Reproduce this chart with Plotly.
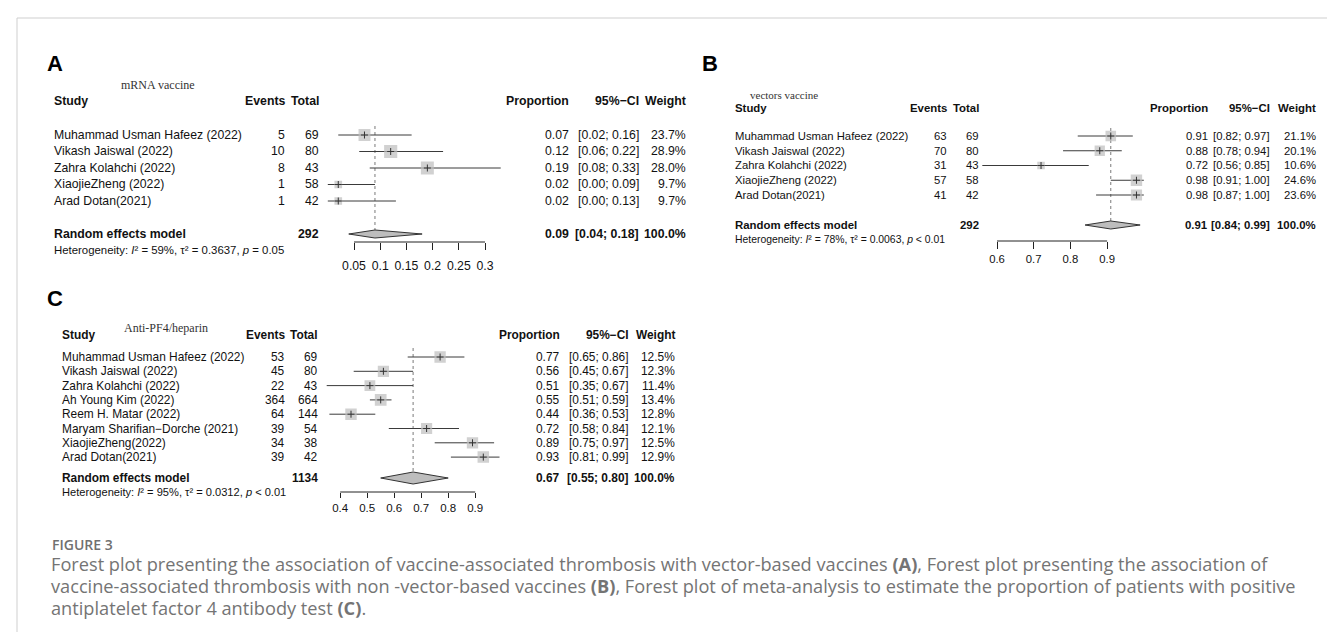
import plotly.graph_objects as go

W, H = 1335, 632

# ---------------- data ----------------
A_title = "mRNA vaccine"
A_studies = ["Muhammad Usman Hafeez (2022)", "Vikash Jaiswal (2022)", "Zahra Kolahchi (2022)",
             "XiaojieZheng (2022)", "Arad Dotan(2021)"]
A_events = [5, 10, 8, 1, 1]
A_total = [69, 80, 43, 58, 42]
A_prop = [0.07, 0.12, 0.19, 0.02, 0.02]
A_lower = [0.02, 0.06, 0.08, 0.00, 0.00]
A_upper = [0.16, 0.22, 0.33, 0.09, 0.13]
A_weight = [23.7, 28.9, 28.0, 9.7, 9.7]
A_pooled = [0.09, 0.04, 0.18]
A_pooled_n = 292
A_het = ["59%", "0.3637", "= 0.05"]
A_ticks = [0.05, 0.1, 0.15, 0.2, 0.25, 0.3]
A_ticklabels = ["0.05", "0.1", "0.15", "0.2", "0.25", "0.3"]

B_title = "vectors vaccine"
B_studies = ["Muhammad Usman Hafeez (2022)", "Vikash Jaiswal (2022)", "Zahra Kolahchi (2022)",
             "XiaojieZheng (2022)", "Arad Dotan(2021)"]
B_events = [63, 70, 31, 57, 41]
B_total = [69, 80, 43, 58, 42]
B_prop = [0.91, 0.88, 0.72, 0.98, 0.98]
B_lower = [0.82, 0.78, 0.56, 0.91, 0.87]
B_upper = [0.97, 0.94, 0.85, 1.00, 1.00]
B_weight = [21.1, 20.1, 10.6, 24.6, 23.6]
B_pooled = [0.91, 0.84, 0.99]
B_pooled_n = 292
B_het = ["78%", "0.0063", "< 0.01"]
B_ticks = [0.6, 0.7, 0.8, 0.9]
B_ticklabels = ["0.6", "0.7", "0.8", "0.9"]

C_title = "Anti-PF4/heparin"
C_studies = ["Muhammad Usman Hafeez (2022)", "Vikash Jaiswal (2022)", "Zahra Kolahchi (2022)",
             "Ah Young Kim (2022)", "Reem H. Matar (2022)", "Maryam Sharifian\u2212Dorche (2021)",
             "XiaojieZheng(2022)", "Arad Dotan(2021)"]
C_events = [53, 45, 22, 364, 64, 39, 34, 39]
C_total = [69, 80, 43, 664, 144, 54, 38, 42]
C_prop = [0.77, 0.56, 0.51, 0.55, 0.44, 0.72, 0.89, 0.93]
C_lower = [0.65, 0.45, 0.35, 0.51, 0.36, 0.58, 0.75, 0.81]
C_upper = [0.86, 0.67, 0.67, 0.59, 0.53, 0.84, 0.97, 0.99]
C_weight = [12.5, 12.3, 11.4, 13.4, 12.8, 12.1, 12.5, 12.9]
C_pooled = [0.67, 0.55, 0.80]
C_pooled_n = 1134
C_het = ["95%", "0.0312", "< 0.01"]
C_ticks = [0.4, 0.5, 0.6, 0.7, 0.8, 0.9]
C_ticklabels = ["0.4", "0.5", "0.6", "0.7", "0.8", "0.9"]

CAPTION_HEAD = "FIGURE 3"
CAPTION_LINES = [
    "Forest plot presenting the association of vaccine-associated thrombosis with vector-based vaccines <b>(A)</b>, Forest plot presenting the association of",
    "vaccine-associated thrombosis with non -vector-based vaccines <b>(B)</b>, Forest plot of meta-analysis to estimate the proportion of patients with positive",
    "antiplatelet factor 4 antibody test <b>(C)</b>.",
]

# ---------------- layout / style (pixels) ----------------
SANS = "Liberation Sans, Arial, Helvetica, sans-serif"
SERIF = "Liberation Serif, Times New Roman, serif"
CAPF = "Open Sans, Noto Sans, sans-serif"

STYLE = {
    "A": dict(letter=(37, 55), title_xy=(150, 77), title_fs=12, header_y=93, row0=127, dy=16.5,
              sum_y=226, het_y=242, axis_y=234, ticklen=7, standoff=5, a=319.8, b=524.0,
              xr=[-0.01, 0.35], name_x=44, ev_r=279, tot_r=313, prop_r=563, ci_r=633, w_r=680,
              fs=12.25, hfs=12.3, het_fs=11.4, tick_fs=12.25, sq=2.45, dh=4, dot_top=118,
              top=62, bottom=272),
    "B": dict(letter=(692, 55), title_xy=(776, 87), title_fs=11, header_y=100, row0=128, dy=14.75,
              sum_y=217, het_y=232, axis_y=233, ticklen=7, standoff=0, a=768.8, b=367.0,
              xr=[0.5, 1.02], name_x=725, ev_r=941, tot_r=973, prop_r=1202, ci_r=1264, w_r=1310,
              fs=11.3, hfs=11.4, het_fs=10.4, tick_fs=11.3, sq=2.3, dh=4, dot_top=120,
              top=75, bottom=262),
    "C": dict(letter=(37, 290), title_xy=(158, 320), title_fs=12, header_y=327, row0=349, dy=14.3,
              sum_y=470, het_y=484, axis_y=484, ticklen=5, standoff=0, a=224.2, b=270.0,
              xr=[0.3, 1.02], name_x=52, ev_r=279, tot_r=312, prop_r=554, ci_r=623, w_r=669,
              fs=11.9, hfs=11.9, het_fs=11.1, tick_fs=11.5, sq=3.2, dh=6, dot_top=340,
              top=300, bottom=512),
}

PANELS = [
    ("A", A_title, A_studies, A_events, A_total, A_prop, A_lower, A_upper, A_weight,
     A_pooled, A_pooled_n, A_het, A_ticks, A_ticklabels),
    ("B", B_title, B_studies, B_events, B_total, B_prop, B_lower, B_upper, B_weight,
     B_pooled, B_pooled_n, B_het, B_ticks, B_ticklabels),
    ("C", C_title, C_studies, C_events, C_total, C_prop, C_lower, C_upper, C_weight,
     C_pooled, C_pooled_n, C_het, C_ticks, C_ticklabels),
]


def fx(p):
    return p / W


def fy(p):
    return 1 - p / H


fig = go.Figure()
annotations = []
shapes = []
layout_axes = {}

for idx, (key, title, studies, events, total, prop, lower, upper, weight,
          pooled, pooled_n, het, ticks, ticklabels) in enumerate(PANELS, start=1):
    st = STYLE[key]
    xa = "x" if idx == 1 else f"x{idx}"
    ya = "y" if idx == 1 else f"y{idx}"
    xk = "xaxis" if idx == 1 else f"xaxis{idx}"
    yk = "yaxis" if idx == 1 else f"yaxis{idx}"

    def row(pix, st=st):
        return (pix - st["row0"]) / st["dy"]

    n = len(studies)
    ks = list(range(n))
    ksum = row(st["sum_y"])
    est, plo, phi = pooled

    common = dict(xaxis=xa, yaxis=ya, hoverinfo="skip", showlegend=False)

    # dotted reference line at pooled estimate
    fig.add_trace(go.Scatter(x=[est, est], y=[row(st["dot_top"]), ksum], mode="lines",
                             line=dict(color="#7a7a7a", width=1, dash="dot"), **common))
    # CI lines
    xs, ys = [], []
    for k, lo, hi in zip(ks, lower, upper):
        xs += [lo, hi, None]
        ys += [k, k, None]
    fig.add_trace(go.Scatter(x=xs, y=ys, mode="lines",
                             line=dict(color="#3a3a3a", width=1), **common))
    # weighted squares
    fig.add_trace(go.Scatter(x=prop, y=ks, mode="markers",
                             marker=dict(symbol="square", color="#bdbdbd",
                                         size=[st["sq"] * w ** 0.5 for w in weight],
                                         line=dict(width=0)), **common))
    # point estimate tick
    fig.add_trace(go.Scatter(x=prop, y=ks, mode="markers",
                             marker=dict(symbol="cross-thin", size=5, color="#333",
                                         line=dict(color="#333", width=1)), **common))
    # pooled diamond
    h = st["dh"] / st["dy"]
    fig.add_trace(go.Scatter(x=[plo, est, phi, est, plo], y=[ksum, ksum - h, ksum, ksum + h, ksum],
                             mode="lines", fill="toself", fillcolor="#bdbdbd",
                             line=dict(color="#333", width=1), **common))

    # axes
    layout_axes[xk] = dict(domain=[fx(st["a"] + st["b"] * st["xr"][0]), fx(st["a"] + st["b"] * st["xr"][1])],
                           range=st["xr"], anchor="free", position=fy(st["axis_y"]),
                           tickvals=ticks, ticktext=ticklabels, ticks="outside",
                           ticklen=st["ticklen"], tickwidth=1, tickcolor="#222",
                           ticklabelstandoff=st["standoff"],
                           showgrid=False, zeroline=False, showline=False, fixedrange=True,
                           tickfont=dict(family=SANS, size=st["tick_fs"], color="#111"))
    layout_axes[yk] = dict(domain=[fy(st["bottom"]), fy(st["top"])],
                           range=[row(st["bottom"]), row(st["top"])], anchor=xa,
                           visible=False, fixedrange=True)
    shapes.append(dict(type="line", xref=xa, yref="paper", x0=ticks[0], x1=ticks[-1],
                       y0=fy(st["axis_y"]), y1=fy(st["axis_y"]), line=dict(color="#222", width=1)))

    def txt(text, xpix, yval, anchor="left", size=None, bold=False, family=SANS, color="#111",
            yref=ya):
        if bold:
            text = f"<b>{text}</b>"
        annotations.append(dict(text=text, x=fx(xpix), xref="paper", y=yval, yref=yref,
                                xanchor=anchor, yanchor="middle", showarrow=False,
                                font=dict(family=family, size=size or st["fs"], color=color)))

    # panel letter and title
    annotations.append(dict(text=f"<b>{key}</b>", x=fx(st["letter"][0]), y=fy(st["letter"][1]),
                            xref="paper", yref="paper", xanchor="left", yanchor="middle",
                            showarrow=False, font=dict(family=SANS, size=22, color="#000")))
    txt(title, st["title_xy"][0], row(st["title_xy"][1]), anchor="center", size=st["title_fs"],
        family=SERIF, color="#333")

    # header
    hy = row(st["header_y"])
    txt("Study", st["name_x"], hy, "left", st["hfs"], True)
    txt("Events", st["ev_r"], hy, "right", st["hfs"], True)
    txt("Total", st["tot_r"], hy, "right", st["hfs"], True)
    txt("Proportion", st["prop_r"], hy, "right", st["hfs"], True)
    txt("95%\u2212CI", st["ci_r"], hy, "right", st["hfs"], True)
    txt("Weight", st["w_r"], hy, "right", st["hfs"], True)

    # study rows
    for k, name, ev, tot, p, lo, hi, w in zip(ks, studies, events, total, prop, lower, upper, weight):
        txt(name, st["name_x"], k, "left")
        txt(str(ev), st["ev_r"], k, "right")
        txt(str(tot), st["tot_r"], k, "right")
        txt(f"{p:.2f}", st["prop_r"], k, "right")
        txt(f"[{lo:.2f}; {hi:.2f}]", st["ci_r"], k, "right")
        txt(f"{w:.1f}%", st["w_r"], k, "right")

    # summary row
    txt("Random effects model", st["name_x"], ksum, "left", st["hfs"], True)
    txt(str(pooled_n), st["tot_r"], ksum, "right", st["hfs"], True)
    txt(f"{est:.2f}", st["prop_r"], ksum, "right", st["hfs"], True)
    txt(f"[{plo:.2f}; {phi:.2f}]", st["ci_r"], ksum, "right", st["hfs"], True)
    txt("100.0%", st["w_r"], ksum, "right", st["hfs"], True)

    # heterogeneity
    i2, tau2, pv = het
    txt(f"Heterogeneity: <i>I</i>\u00b2 = {i2}, \u03c4\u00b2 = {tau2}, <i>p</i> {pv}",
        st["name_x"], row(st["het_y"]), "left", st["het_fs"])

# caption
annotations.append(dict(text=CAPTION_HEAD, x=fx(42), y=fy(536), xref="paper", yref="paper",
                        xanchor="left", yanchor="middle", showarrow=False,
                        font=dict(family=CAPF, size=14, color="#707070", weight=600)))
for i, line in enumerate(CAPTION_LINES):
    annotations.append(dict(text=line, x=fx(41), y=fy(556 + 22 * i), xref="paper", yref="paper",
                            xanchor="left", yanchor="middle", showarrow=False,
                            font=dict(family=CAPF, size=18.2, color="#747474")))

# frame
frame = "#cfcfcf"
shapes += [
    dict(type="line", xref="paper", yref="paper", x0=fx(9), x1=fx(1330), y0=fy(10), y1=fy(10),
         line=dict(color=frame, width=1)),
    dict(type="line", xref="paper", yref="paper", x0=fx(9), x1=fx(9), y0=fy(10), y1=0,
         line=dict(color=frame, width=1)),
    dict(type="line", xref="paper", yref="paper", x0=fx(1330), x1=fx(1330), y0=fy(10), y1=0,
         line=dict(color=frame, width=1)),
]

fig.update_layout(width=W, height=H, margin=dict(l=0, r=0, t=0, b=0),
                  paper_bgcolor="white", plot_bgcolor="white",
                  annotations=annotations, shapes=shapes, showlegend=False, **layout_axes)

fig.write_html("out.html")
